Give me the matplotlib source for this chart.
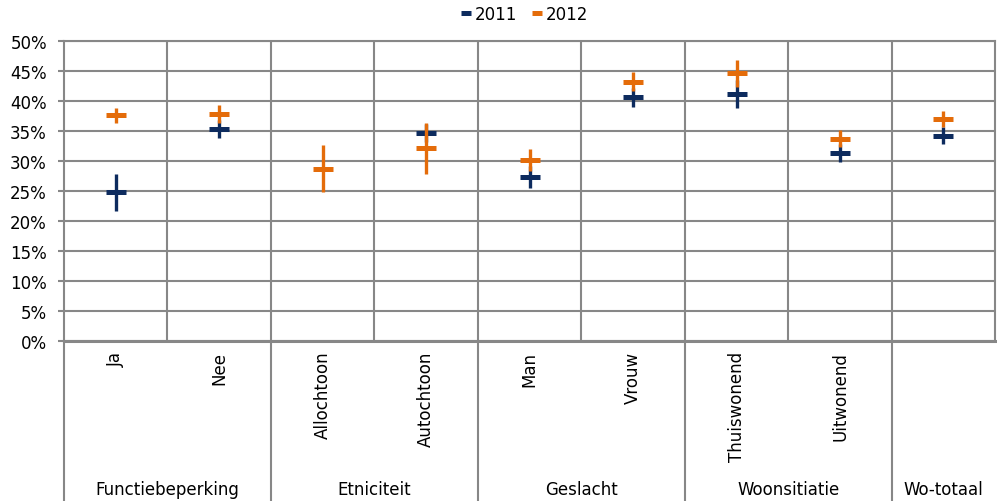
import matplotlib.pyplot as plt
from matplotlib.lines import Line2D
from matplotlib.ticker import FuncFormatter
import numpy as np

categories = ['Ja', 'Nee', 'Allochtoon', 'Autochtoon', 'Man', 'Vrouw',
              'Thuiswonend', 'Uitwonend', '']
groups = ['Functiebeperking', 'Etniciteit', 'Geslacht', 'Woonsitiatie', 'Wo-totaal']
group_sizes = [2, 2, 2, 2, 1]

# percentages with half-width of the interval
val_2011 = [24.8, 35.4, np.nan, 34.7, 27.3, 40.6, 41.2, 31.4, 34.2]
err_2011 = [3.1, 1.5, np.nan, 1.5, 1.8, 1.6, 2.3, 1.5, 1.4]
val_2012 = [37.6, 37.8, 28.7, 32.1, 30.2, 43.2, 44.6, 33.7, 37.0]
err_2012 = [1.25, 1.5, 3.9, 4.2, 1.8, 1.6, 2.3, 1.4, 1.3]

navy = '#0D2B5E'
orange = '#E46C0A'
grid_c = '#878787'

plt.rcParams['font.family'] = 'DejaVu Sans'

fig = plt.figure(figsize=(9.97, 5.02), dpi=100)
ax = fig.add_axes([0.0642, 0.3187, 0.934, 0.5976])

x = np.arange(len(categories))
series = [(val_2011, err_2011, navy, 3), (val_2012, err_2012, orange, 5)]
for vals, errs, color, z in series:
    ax.errorbar(x, vals, yerr=errs, fmt='none', ecolor=color, elinewidth=2.4,
                capsize=0, zorder=z)
    ax.plot(x, vals, ls='none', marker='_', ms=14, mew=3.6, color=color, zorder=z + 1)

ax.set_xlim(-0.5, len(categories) - 0.5)
ax.set_ylim(0, 50)
ax.set_yticks(np.arange(0, 51, 5))
ax.yaxis.set_major_formatter(FuncFormatter(lambda v, p: '%d%%' % v))
ax.set_xticks(x)
ax.set_xticklabels(categories, rotation=90, va='top', fontsize=12)
ax.set_xticks(np.arange(0.5, len(categories) - 0.5), minor=True)

ax.grid(True, axis='y', color=grid_c, lw=1.5, zorder=0)
ax.grid(True, axis='x', which='minor', color=grid_c, lw=1.5, zorder=0)
ax.tick_params(axis='y', length=4.3, width=1.5, color=grid_c, pad=8, labelsize=12)
ax.tick_params(axis='x', which='both', length=0, pad=7)
for s in ax.spines.values():
    s.set_color(grid_c)
    s.set_linewidth(1.5)
ax.spines['bottom'].set_linewidth(2.2)
ax.set_axisbelow(True)

# group labels and separators below the axis
trans = ax.get_xaxis_transform()
start = -0.5
for name, n in zip(groups, group_sizes):
    ax.plot([start, start], [0, -0.54], color=grid_c, lw=1.5, transform=trans,
            clip_on=False)
    ax.text(start + n / 2, -0.493, name, transform=trans, ha='center', va='center',
            fontsize=12)
    start += n

handles = [Line2D([], [], color=c, lw=0, marker='_', ms=7, mew=3.6) for c in (navy, orange)]
fig.legend(handles, ['2011', '2012'], loc='center', bbox_to_anchor=(0.526, 0.97),
           ncol=2, frameon=False, fontsize=12, handlelength=0.6, handletextpad=0.2,
           columnspacing=0.9)

fig.savefig('out.png', dpi=100)
